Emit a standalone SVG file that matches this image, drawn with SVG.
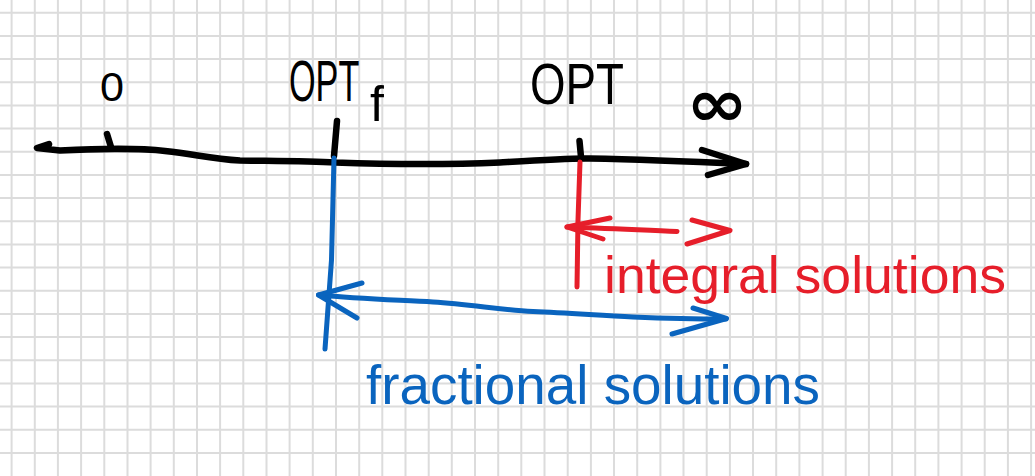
<svg xmlns="http://www.w3.org/2000/svg" width="1035" height="476" viewBox="0 0 1035 476">
<style>
.grid{fill:none;stroke:#dcdcdc;stroke-width:2}
.ink{fill:none;stroke-linecap:round;stroke-linejoin:round}
.k{stroke:#000;stroke-width:6.5}
.r{stroke:#e61e2a;stroke-width:5}
.b{stroke:#0a64be;stroke-width:5}
.hand{font-family:"Liberation Sans",Arial,sans-serif}
</style>
<rect width="1035" height="476" fill="#fff"/>
<g id="grid">
<path class="grid" d="M11.6 0V476M34.8 0V476M57.9 0V476M81.1 0V476M104.3 0V476M127.5 0V476M150.6 0V476M173.8 0V476M197 0V476M220.1 0V476M243.3 0V476M266.5 0V476M289.6 0V476M312.8 0V476M336 0V476M359.2 0V476M382.3 0V476M405.5 0V476M428.7 0V476M451.8 0V476M475 0V476M498.2 0V476M521.3 0V476M544.5 0V476M567.7 0V476M590.9 0V476M614 0V476M637.2 0V476M660.4 0V476M683.5 0V476M706.7 0V476M729.9 0V476M753 0V476M776.2 0V476M799.4 0V476M822.6 0V476M845.7 0V476M868.9 0V476M892.1 0V476M915.2 0V476M938.4 0V476M961.6 0V476M984.7 0V476M1007.9 0V476M1031.1 0V476"/>
<path class="grid" d="M0 12.7H1035M0 35.9H1035M0 59H1035M0 82.2H1035M0 105.4H1035M0 128.6H1035M0 151.7H1035M0 174.9H1035M0 198.1H1035M0 221.2H1035M0 244.4H1035M0 267.6H1035M0 290.7H1035M0 313.9H1035M0 337.1H1035M0 360.3H1035M0 383.4H1035M0 406.6H1035M0 429.8H1035M0 452.9H1035"/>
</g>
<g id="axis">
<path class="ink k" d="M49 144 L37 148 L60 150.5 C90 149 140 148 165 151 C195 154 210 159 240 160.5 C275 161 310 161 335 162.5 C380 164 440 165 500 162.5 C540 160 570 158 590 158.5 C640 159.5 690 161.5 746 164"/>
<path class="ink k" d="M702 150 L746 164 L708 175"/>
<path class="ink k" d="M107 134 L111 147"/>
<path class="ink k" d="M337 121 L334 156"/>
<path class="ink k" d="M579.5 141 L581 157"/>
</g>
<g id="labels-top">
<text class="hand" x="112" y="101" font-size="40" text-anchor="middle" textLength="24" lengthAdjust="spacingAndGlyphs">0</text>
<text class="hand" font-size="58" transform="translate(289 101) scale(0.59 1)">OPT</text>
<text class="hand" x="370" y="121" font-size="50">f</text>
<text class="hand" x="530" y="104" font-size="58" textLength="94" lengthAdjust="spacingAndGlyphs">OPT</text>
<text x="717" y="126" font-family="'DejaVu Sans',sans-serif" font-size="66" font-weight="bold" text-anchor="middle" textLength="62" lengthAdjust="spacingAndGlyphs">∞</text>
</g>
<g id="integral">
<path class="ink r" d="M580 162 L578 220 L577 287"/>
<path class="ink r" d="M567 227 C600 228 640 230 677 231.5"/>
<path class="ink r" d="M610 218 L567 227 L603 239"/>
<path class="ink r" d="M692 220 L730 230.5 L687 244"/>
<text class="hand" x="604" y="293" font-size="52" fill="#e61e2a" textLength="402" lengthAdjust="spacingAndGlyphs">integral solutions</text>
</g>
<g id="fractional">
<path class="ink b" d="M334 158 L331.5 260 L325 349"/>
<path class="ink b" d="M318.5 295 C360 299 400 300 433 302 C470 304 500 310 533 311.5 C570 313 600 315.5 633 317 C670 318.5 700 319 726 319"/>
<path class="ink b" d="M362 283 L318.5 295 L357 318"/>
<path class="ink b" d="M693 308 L726.5 318.5 L672 334"/>
<text class="hand" x="366" y="404" font-size="56" fill="#0a64be" textLength="454" lengthAdjust="spacingAndGlyphs">fractional solutions</text>
</g>
</svg>
